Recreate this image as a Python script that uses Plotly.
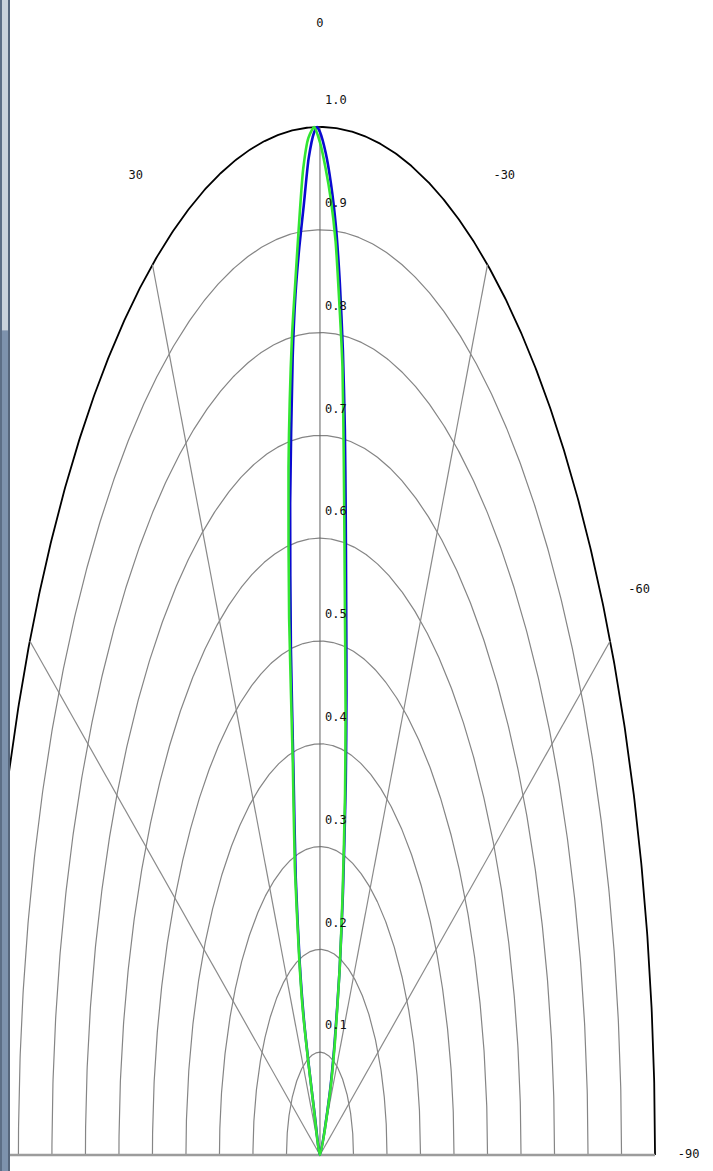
import numpy as np
import plotly.graph_objects as go

# ---- data (angle in degrees, positive = left side, as labelled on the chart) ----
angles_blue = [24, 22, 21, 20, 18, 15, 12, 10, 8, 6, 5, 4, 3, 2, 1, 0.5, 0,
               -1, -2, -3, -4, -5, -6, -7, -8, -10, -12, -15, -18, -22, -26, -30]
r_blue = [0.0, 0.04, 0.09, 0.14, 0.195, 0.28, 0.38, 0.5, 0.64, 0.78, 0.84, 0.885, 0.925, 0.97, 0.995, 1.0, 0.995,
          0.975, 0.945, 0.905, 0.85, 0.785, 0.71, 0.63, 0.56, 0.455, 0.37, 0.265, 0.19, 0.115, 0.065, 0.0]

angles_green = [24, 22, 21, 20, 18, 15, 12, 10, 8, 6, 5, 4, 3, 2, 1, 0,
                -1, -2, -3, -4, -5, -6, -7, -8, -10, -12, -15, -18, -22, -26, -30]
r_green = [0.0, 0.05, 0.1, 0.15, 0.2, 0.29, 0.39, 0.53, 0.675, 0.8, 0.85, 0.905, 0.96, 0.99, 1.0, 0.985,
           0.96, 0.93, 0.89, 0.83, 0.77, 0.68, 0.6, 0.535, 0.44, 0.36, 0.26, 0.19, 0.12, 0.07, 0.0]

ring_values = [0.1, 0.2, 0.3, 0.4, 0.5, 0.6, 0.7, 0.8, 0.9, 1.0]
ring_labels = ["0.1", "0.2", "0.3", "0.4", "0.5", "0.6", "0.7", "0.8", "0.9", "1.0"]
spoke_angles = [60, 30, -30, -60]
angle_label_values = [30, 0, -30, -60, -90]
angle_labels = ["30", "0", "-30", "-60", "-90"]


def to_xy(theta_deg, r):
    t = np.radians(np.asarray(theta_deg, dtype=float))
    r = np.asarray(r, dtype=float)
    return -r * np.sin(t), r * np.cos(t)


fig = go.Figure()

# rings
phi = np.linspace(-90, 90, 721)
for rv in ring_values:
    x, y = to_xy(phi, np.full_like(phi, rv))
    fig.add_trace(go.Scatter(x=x, y=y, mode="lines", hoverinfo="skip", showlegend=False,
                             line=dict(color="#000000" if rv == 1.0 else "#858585",
                                       width=1.8 if rv == 1.0 else 1.2)))

# spokes
for a in spoke_angles:
    x, y = to_xy([a, a], [0, 1])
    fig.add_trace(go.Scatter(x=x, y=y, mode="lines", hoverinfo="skip", showlegend=False,
                             line=dict(color="#8a8a8a", width=1.2)))
x, y = to_xy([0, 0], [0, 1])
fig.add_trace(go.Scatter(x=x, y=y, mode="lines", hoverinfo="skip", showlegend=False,
                         line=dict(color="#606060", width=1)))
x, y = to_xy([90, -90], [1, 1])
fig.add_trace(go.Scatter(x=x, y=y, mode="lines", hoverinfo="skip", showlegend=False,
                         line=dict(color="#9c9c9c", width=2.6)))

# data curves
x, y = to_xy(angles_blue, r_blue)
fig.add_trace(go.Scatter(x=x, y=y, mode="lines", showlegend=False,
                         line=dict(color="#0a0ad0", width=2.6, shape="spline", smoothing=0.6)))
x, y = to_xy(angles_green, r_green)
fig.add_trace(go.Scatter(x=x, y=y, mode="lines", showlegend=False,
                         line=dict(color="#33e633", width=2.6, shape="spline", smoothing=0.6)))

# angle labels at r = 1.1
x, y = to_xy(angle_label_values, [1.1] * len(angle_label_values))
fig.add_trace(go.Scatter(x=x, y=y, mode="text", text=angle_labels, showlegend=False,
                         hoverinfo="skip", textposition="middle center",
                         textfont=dict(family="DejaVu Sans Mono", size=12, color="#111111")))

# ring labels
annotations = []
for rv, lab in zip(ring_values, ring_labels):
    annotations.append(dict(x=0.008, y=rv + 0.026, text=lab, showarrow=False,
                            xanchor="left", yanchor="middle",
                            font=dict(family="DejaVu Sans Mono", size=12, color="#111111")))

# window frame on the left edge
shapes = [
    dict(type="rect", xref="paper", yref="paper", x0=0, x1=10 / 713, y0=0.718, y1=1,
         fillcolor="#c9d2dc", line=dict(width=0), layer="above"),
    dict(type="rect", xref="paper", yref="paper", x0=0, x1=10 / 713, y0=0, y1=0.718,
         fillcolor="#7d92ad", line=dict(width=0), layer="above"),
    dict(type="rect", xref="paper", yref="paper", x0=0, x1=2 / 713, y0=0, y1=1,
         fillcolor="#5c6e86", line=dict(width=0), layer="above"),
    dict(type="rect", xref="paper", yref="paper", x0=8 / 713, x1=10 / 713, y0=0, y1=1,
         fillcolor="#56667c", line=dict(width=0), layer="above"),
]

fig.update_layout(
    width=713, height=1171, autosize=False,
    margin=dict(l=0, r=0, t=0, b=0, pad=0),
    paper_bgcolor="white", plot_bgcolor="white",
    xaxis=dict(range=[-0.955, 1.173], visible=False, fixedrange=True),
    yaxis=dict(range=[-0.01556, 1.1235], visible=False, fixedrange=True),
    annotations=annotations, shapes=shapes,
)

fig.write_html("out.html", config={"displayModeBar": False},
               post_script="document.body.style.margin='0';document.body.style.overflow='hidden';")
